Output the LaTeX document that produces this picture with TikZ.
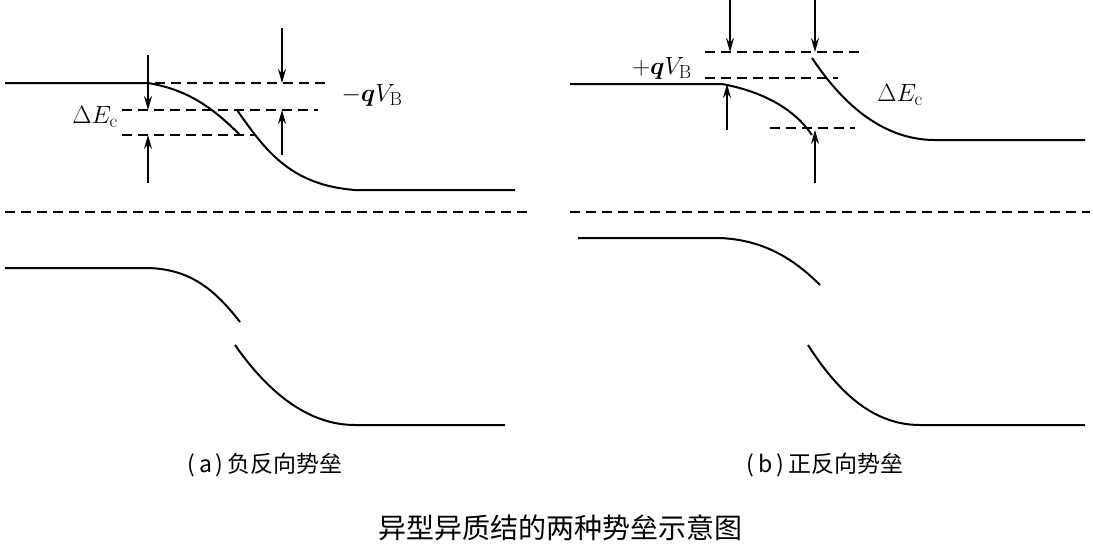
\documentclass[tikz,border=0pt]{standalone}
\usepackage{fontspec}
\usepackage{bm}
\newfontfamily\cjk{Noto Sans CJK SC}
\usetikzlibrary{arrows.meta}
\begin{document}
\begin{tikzpicture}[x=1pt,y=-1pt,
  band/.style={line width=2pt},
  dsh/.style={line width=1.7pt,dash pattern=on 10pt off 6pt},
  arr/.style={line width=1.6pt,-{Stealth[length=14pt,width=8pt]}},
  lbl/.style={font=\fontsize{27}{30}\selectfont},
  captxt/.style={font=\fontsize{23}{26}\selectfont\cjk}]
\useasboundingbox (0,0) rectangle (1093,550);
% ---- (a)
\coordinate (a1) at (5,83); \coordinate (a2) at (148,83); \coordinate (a3) at (240,135);
\coordinate (a4) at (237,110); \coordinate (a5) at (355,190); \coordinate (a6) at (515,190);
\draw[band] (a1) -- (a2) .. controls (190,90) and (215,110) .. (a3);
\draw[band] (a4) .. controls (265,150) and (290,185) .. (a5) -- (a6);
\draw[dsh] (155,83) -- (325,83);
\draw[dsh] (122,110) -- (318,110);
\draw[dsh] (122,135) -- (255,135);
\coordinate (aa) at (148,55); \coordinate (ab) at (148,110);
\coordinate (ac) at (148,183); \coordinate (ad) at (148,135);
\coordinate (ae) at (282,28); \coordinate (af) at (282,83);
\coordinate (ag) at (282,155); \coordinate (ah) at (282,110);
\draw[arr] (aa) -- (ab); \draw[arr] (ac) -- (ad);
\draw[arr] (ae) -- (af); \draw[arr] (ag) -- (ah);
\node[lbl] (dEa) at (95,117) {$\Delta E_{\mathrm{c}}$};
\node[lbl] (qVa) at (372,95) {$-\bm{q}V_{\mathrm{B}}$};
\draw[dsh] (5,212) -- (528,212);
\draw[band] (5,268) -- (145,268) .. controls (190,268) and (215,290) .. (240,322);
\draw[band] (235,345) .. controls (270,395) and (310,425) .. (355,425) -- (505,425);
\node[captxt] (ca) at (265,465) {(\,a\,)\,负反向势垒};
% ---- (b)
\draw[band] (570,84) -- (722,84) .. controls (765,92) and (795,110) .. (812,135);
\draw[band] (812,58) .. controls (840,100) and (880,140) .. (935,140) -- (1085,140);
\draw[dsh] (705,52) -- (865,52);
\draw[dsh] (705,78) -- (838,78);
\draw[dsh] (770,128) -- (855,128);
\coordinate (ba) at (730,0); \coordinate (bb) at (730,52);
\coordinate (bc) at (815,0); \coordinate (bd) at (815,52);
\coordinate (be) at (727,130); \coordinate (bf) at (727,84);
\coordinate (bg) at (815,183); \coordinate (bh) at (815,130);
\draw[arr] (ba) -- (bb); \draw[arr] (bc) -- (bd);
\draw[arr] (be) -- (bf); \draw[arr] (bg) -- (bh);
\node[lbl] (qVb) at (662,68) {$+\bm{q}V_{\mathrm{B}}$};
\node[lbl] (dEb) at (900,95) {$\Delta E_{\mathrm{c}}$};
\draw[dsh] (570,212) -- (1090,212);
\draw[band] (578,238) -- (720,238) .. controls (765,240) and (795,260) .. (820,285);
\draw[band] (808,345) .. controls (840,395) and (875,425) .. (920,425) -- (1085,425);
\node[captxt] (cb) at (825,465) {(\,b\,)\,正反向势垒};
\node[font=\fontsize{28}{32}\selectfont\cjk] (title) at (560,528) {异型异质结的两种势垒示意图};
\end{tikzpicture}
\end{document}
